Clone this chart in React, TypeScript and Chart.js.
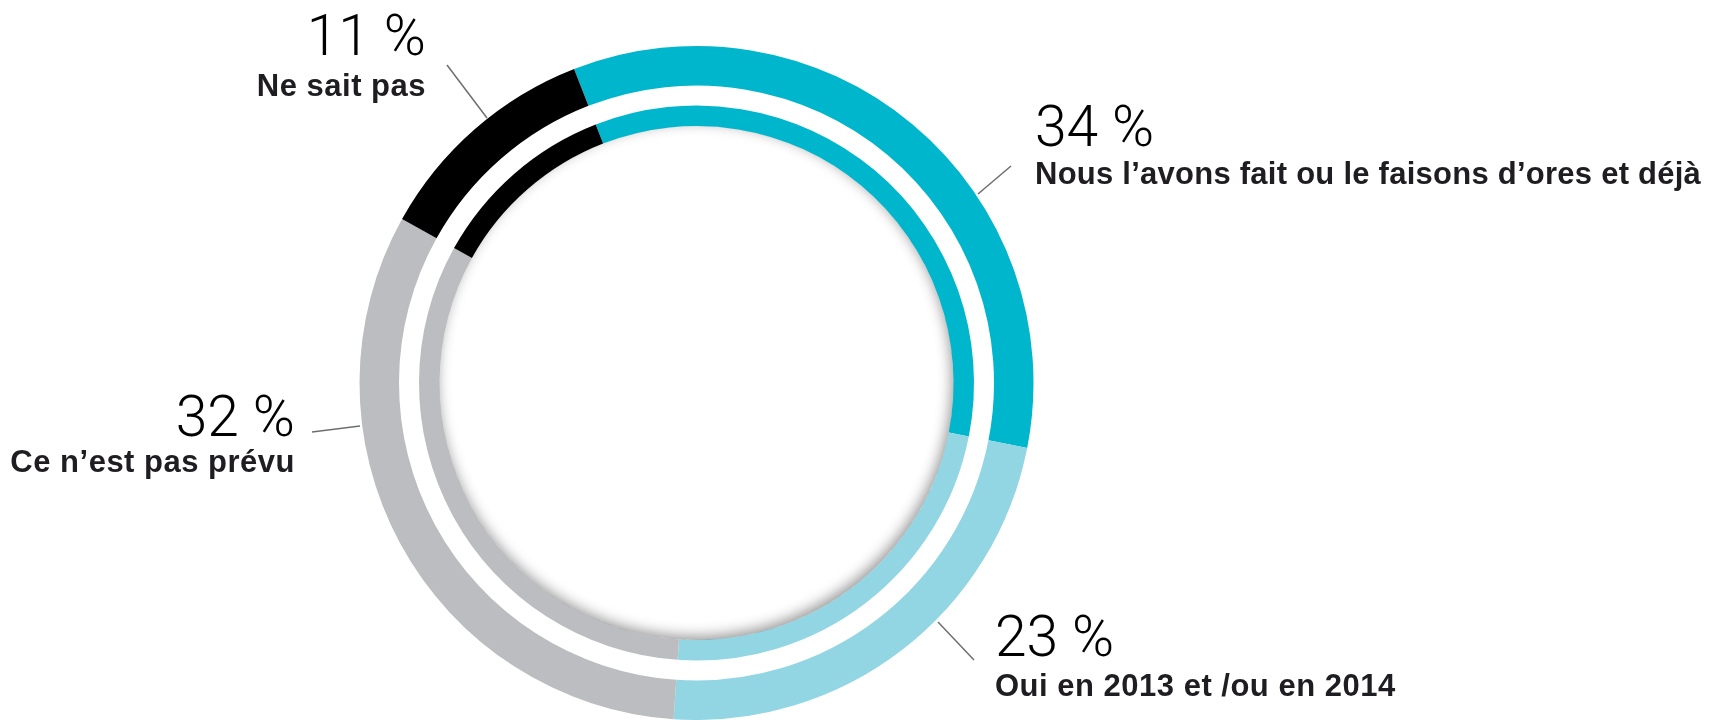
import React, { useEffect, useRef } from "react";
import { Chart, registerables } from "chart.js";

Chart.register(...registerables);

const categories = [
  "Nous l’avons fait ou le faisons d’ores et déjà",
  "Oui en 2013 et /ou en 2014",
  "Ce n’est pas prévu",
  "Ne sait pas",
];
const values = [34, 23, 32, 11];
const pctLabels = ["34 %", "23 %", "32 %", "11 %"];
const colors = ["#00B6CC", "#93D6E3", "#BCBDC0", "#000000"];

// annotation layout (text anchors and leader lines)
const labelLayout = [
  { align: "left", x: 1035, pctY: 146, catY: 184, spacing: 0.25, line: [1011, 166, 978, 194] },
  { align: "left", x: 995, pctY: 656, catY: 696, spacing: 0.5, line: [974, 660, 938, 622] },
  { align: "right", x: 295, pctY: 436, catY: 472, spacing: 0.5, line: [312, 432, 360, 426] },
  { align: "right", x: 426, pctY: 55, catY: 96, spacing: 0.5, line: [447, 65, 487, 118] },
];

const W = 1710;
const H = 720;

const shadowPlugin = {
  id: "innerShadow",
  afterDatasetsDraw(chart: any) {
    const meta = chart.getDatasetMeta(2);
    const arc = meta.data[0];
    if (!arc) return;
    const { x, y, innerRadius } = arc.getProps(["x", "y", "innerRadius"], true);
    const ctx = chart.ctx;
    ctx.save();
    ctx.beginPath();
    ctx.arc(x, y, innerRadius, 0, Math.PI * 2);
    ctx.clip();
    ctx.shadowColor = "rgba(0,0,0,0.42)";
    ctx.shadowBlur = 14;
    ctx.shadowOffsetX = -2;
    ctx.shadowOffsetY = -4;
    ctx.beginPath();
    ctx.arc(x, y, innerRadius + 80, 0, Math.PI * 2);
    ctx.arc(x, y, innerRadius + 0.5, 0, Math.PI * 2, true);
    ctx.fillStyle = "#bcbdc0";
    ctx.fill();
    ctx.restore();
  },
};

const labelPlugin = {
  id: "sliceLabels",
  afterDraw(chart: any) {
    const ctx = chart.ctx;
    ctx.save();
    labelLayout.forEach((l, i) => {
      const [x1, y1, x2, y2] = l.line;
      ctx.strokeStyle = "#6d6e71";
      ctx.lineWidth = 1.5;
      ctx.beginPath();
      ctx.moveTo(x1, y1);
      ctx.lineTo(x2, y2);
      ctx.stroke();

      ctx.textAlign = l.align;
      ctx.textBaseline = "alphabetic";
      ctx.fillStyle = "#000000";
      ctx.letterSpacing = "0px";
      ctx.font = "300 57px Roboto, 'Liberation Sans', sans-serif";
      ctx.fillText(pctLabels[i], l.x, l.pctY);
      ctx.fillStyle = "#1f1d21";
      ctx.letterSpacing = l.spacing + "px";
      ctx.font = "bold 31px 'Liberation Sans', Arial, sans-serif";
      ctx.fillText(categories[i], l.x, l.catY);
    });
    ctx.restore();
  },
};

export default function App() {
  const ref = useRef<HTMLCanvasElement | null>(null);
  useEffect(() => {
    document.body.style.margin = "0";
    const canvas = ref.current;
    if (!canvas) return;
    const chart = new Chart(canvas, {
      type: "doughnut",
      data: {
        labels: categories,
        datasets: [
          { data: values, backgroundColor: colors, borderWidth: 0, weight: 39.5 },
          { data: values, backgroundColor: values.map(() => "rgba(0,0,0,0)"), borderWidth: 0, weight: 20 },
          { data: values, backgroundColor: colors, borderWidth: 0, weight: 20.5 },
        ],
      },
      options: {
        responsive: false,
        animation: false,
        events: [],
        rotation: -21.3,
        cutout: 257,
        layout: { padding: { left: 359, right: 676, top: 46, bottom: 0 } },
        plugins: { legend: { display: false }, tooltip: { enabled: false } },
      },
      plugins: [shadowPlugin, labelPlugin],
    });
    return () => chart.destroy();
  }, []);
  return (
    <div style={{ position: "fixed", left: 0, top: 0, width: W, height: H, background: "#fff" }}>
      <canvas ref={ref} width={W} height={H} style={{ width: W, height: H, display: "block" }} />
    </div>
  );
}
